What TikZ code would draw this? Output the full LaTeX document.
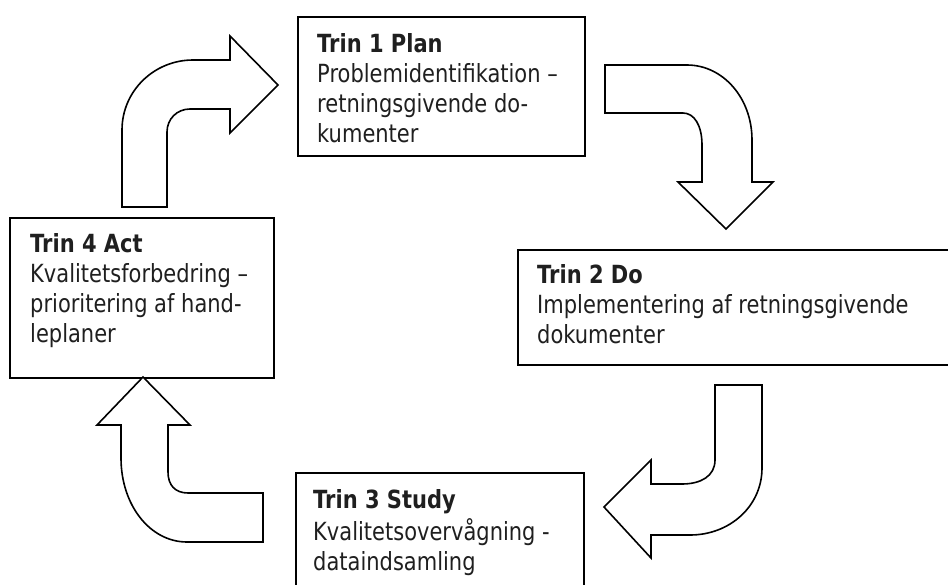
\documentclass[tikz,border=0pt]{standalone}
\usepackage{fontspec}
\setmainfont{DejaVu Sans}[FakeStretch=0.84]
\begin{document}
\begin{tikzpicture}[x=1pt,y=-1pt,
  boxstyle/.style={draw=black,line width=1.6pt,rectangle,inner sep=0pt,anchor=north west},
  txt/.style={anchor=north west,inner sep=0pt,align=left,text=black!88,font=\fontsize{25}{30}\selectfont},
  blockarrow/.style={draw=black,line width=1.6pt,fill=white,line join=miter}]
\useasboundingbox (0,0) rectangle (948,584);
\clip (0,0) rectangle (948,584);
\fill[white] (0,0) rectangle (948,584);
% boxes
\node[boxstyle,minimum width=287pt,minimum height=139pt] (b1) at (297,16) {};
\node[boxstyle,minimum width=460pt,minimum height=115pt] (b2) at (517,249) {};
\node[boxstyle,minimum width=288pt,minimum height=150pt] (b3) at (295,472) {};
\node[boxstyle,minimum width=264pt,minimum height=160pt] (b4) at (9,217) {};
% texts
\node[txt] (t1) at (317,31) {\strut\textbf{Trin 1 Plan}\\Problemidentifikation –\\retningsgivende do-\\kumenter};
\node[txt] (t2) at (537,262) {\strut\textbf{Trin 2 Do}\\Implementering af retningsgivende\\dokumenter};
\node[txt] (t3) at (313,487) {\strut\textbf{Trin 3 Study}\\Kvalitetsovervågning -\\dataindsamling};
\node[txt] (t4) at (30,231) {\strut\textbf{Trin 4 Act}\\Kvalitetsforbedring –\\prioritering af hand-\\leplaner};
% block arrows
\draw[blockarrow] (122,207) -- (122,130) .. controls (122,91) and (154,60) .. (193,60) -- (230,60) -- (230,36) -- (278,85) -- (230,133) -- (230,109) -- (190,109) .. controls (177,109) and (167,119) .. (167,132) -- (167,207) -- cycle;
\draw[blockarrow] (605,65) -- (687,65) .. controls (723,65) and (752,98) .. (752,140) -- (752,182) -- (773,182) -- (726,229) -- (678,182) -- (702,182) -- (702,145) .. controls (702,125) and (694,113) .. (683,113) -- (605,113) -- cycle;
\draw[blockarrow] (715,385) -- (762,385) -- (762,468) .. controls (762,506) and (730,535) .. (690,535) -- (651,535) -- (651,558) -- (604,507) -- (651,460) -- (651,484) -- (682,484) .. controls (701,484) and (715,476) .. (715,460) -- cycle;
\draw[blockarrow] (263,493) -- (263,542) -- (187,542) .. controls (150,542) and (121,505) .. (121,458) -- (121,425) -- (97,425) -- (143,377) -- (190,425) -- (168,425) -- (168,472) .. controls (168,485) and (175,493) .. (188,493) -- cycle;
\end{tikzpicture}
\end{document}
